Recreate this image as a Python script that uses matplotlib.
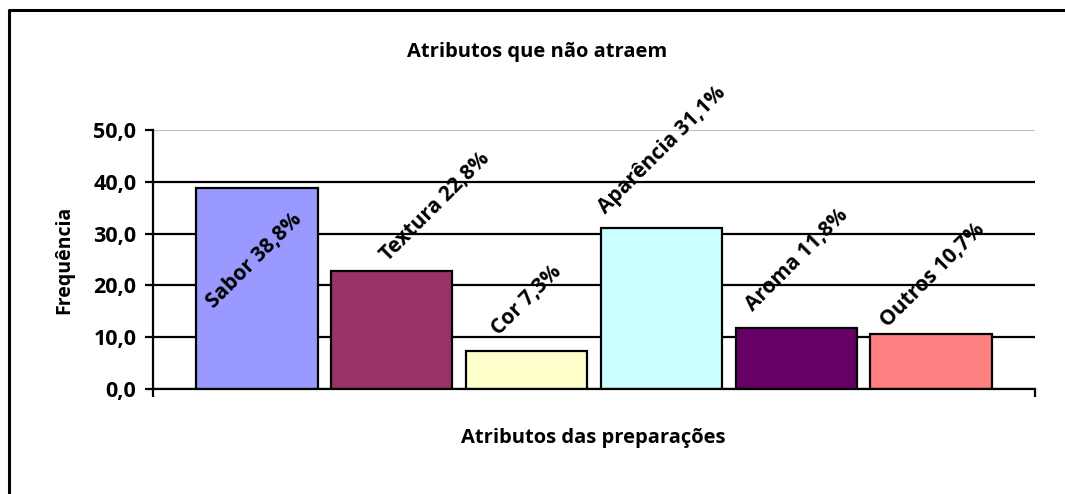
import matplotlib
matplotlib.use("Agg")
import matplotlib.pyplot as plt
from matplotlib.lines import Line2D
from matplotlib.ticker import FuncFormatter
import numpy as np

plt.rcParams["font.family"] = ["Open Sans", "DejaVu Sans"]
plt.rcParams["font.weight"] = "bold"

categories = ["Sabor", "Textura", "Cor", "Aparência", "Aroma", "Outros"]
values = [38.8, 22.8, 7.3, 31.1, 11.8, 10.7]
colors = ["#9999FF", "#993366", "#FFFFCC", "#CCFFFF", "#660066", "#FF8080"]
# label centre offsets from bar top, in pixels (x right, y up)
label_offsets = [(-3, -73), (44, 64), (0, 51), (1, 78), (1, 68), (2, 58)]

fig = plt.figure(figsize=(10.65, 4.94), dpi=100)
ax = fig.add_axes([153 / 1065, 1 - 389 / 494, (1035 - 153) / 1065, (389 - 130) / 494])

x = np.arange(len(categories))
ax.bar(x, values, width=0.9, color=colors, edgecolor="black", linewidth=1.6, zorder=3)

ax.set_xlim(-0.77, len(categories) - 1 + 0.77)
ax.set_ylim(0, 50)
ax.set_yticks(np.arange(0, 51, 10))
ax.yaxis.set_major_formatter(FuncFormatter(lambda v, p: f"{v:.1f}".replace(".", ",")))
ax.tick_params(axis="y", direction="out", length=6, width=1.6, labelsize=15.5, pad=6)
ax.set_xticks(ax.get_xlim())
ax.set_xticklabels([])
ax.tick_params(axis="x", direction="out", length=6, width=1.6)

for t in ax.get_yticks():
    ax.axhline(t, color="#C0C0C0" if t == 50 else "black", lw=1.6, zorder=1)

for s in ("top", "right"):
    ax.spines[s].set_visible(False)
for s in ("left", "bottom"):
    ax.spines[s].set_linewidth(1.6)
    ax.spines[s].set_zorder(4)

for i, (cat, v) in enumerate(zip(categories, values)):
    dx, dy = label_offsets[i]
    ax.annotate(f"{cat} {v:.1f}%".replace(".", ","), xy=(i, v),
                xytext=(dx * 0.72, dy * 0.72), textcoords="offset points",
                rotation=45, rotation_mode="anchor", ha="center", va="center",
                fontsize=15, fontweight="bold", zorder=5)

fig.text(537 / 1065, 1 - 52 / 494, "Atributos que não atraem", ha="center", va="center",
         fontsize=14.5, fontweight="bold")
fig.text(593 / 1065, 1 - 438 / 494, "Atributos das preparações", ha="center", va="center",
         fontsize=14.5, fontweight="bold")
fig.text(64 / 1065, 1 - 260 / 494, "Frequência", ha="center", va="center",
         rotation=90, fontsize=14, fontweight="bold")

# outer chart border (only top and left visible)
fig.add_artist(Line2D([9 / 1065, 9 / 1065, 1.0], [0, 1 - 10 / 494, 1 - 10 / 494],
                      transform=fig.transFigure, color="black", lw=2.2))

fig.savefig("out.png", dpi=100)
